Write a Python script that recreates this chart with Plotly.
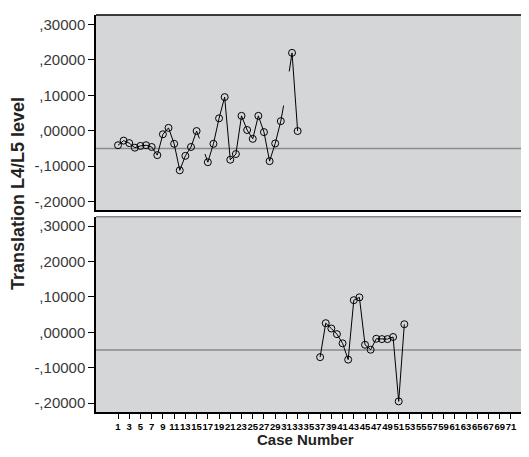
import plotly.graph_objects as go

# ---------------- data ----------------
top_cases = list(range(1, 34))
top_values = [-0.041, -0.028, -0.035, -0.048, -0.043, -0.041, -0.046, -0.069,
              -0.010, 0.008, -0.037, -0.112, -0.071, -0.046, -0.001, None,
              -0.089, -0.037, 0.035, 0.095, -0.082, -0.066, 0.042, 0.002,
              -0.023, 0.042, -0.004, -0.086, -0.036, 0.027, None, 0.220, -0.001]
# cases whose marker is hidden (only short line stubs toward them are drawn)
hidden_cases = [16, 31]
hidden_values = [-0.043, 0.115]

bottom_cases = list(range(37, 53))
bottom_values = [-0.070, 0.026, 0.011, -0.005, -0.031, -0.077, 0.091, 0.099,
                 -0.035, -0.049, -0.018, -0.019, -0.019, -0.013, -0.195, 0.023]

reference_value = -0.05

y_tickvals = [-0.2, -0.1, 0.0, 0.1, 0.2, 0.3]
y_ticktext = ["-,20000", "-,10000", ",00000", ",10000", ",20000", ",30000"]
x_tickvals = list(range(1, 72, 2))
x_ticktext = [str(v) for v in x_tickvals]

# ---------------- stubs toward hidden cases ----------------
lookup = dict(zip(top_cases, top_values))
stub_x, stub_y = [], []
frac = 0.5
for hc, hv in zip(hidden_cases, hidden_values):
    for nb in (hc - 1, hc + 1):
        v = lookup.get(nb)
        if v is None:
            continue
        stub_x += [nb, nb + frac * (hc - nb), None]
        stub_y += [v, v + frac * (hv - v), None]

# ---------------- figure ----------------
LINE = dict(color="black", width=1)
MARK = dict(symbol="circle-open", size=7, color="black", line=dict(width=1, color="black"))

fig = go.Figure()
fig.add_trace(go.Scatter(x=top_cases, y=top_values, mode="lines+markers",
                         line=LINE, marker=MARK, connectgaps=False,
                         xaxis="x", yaxis="y", showlegend=False))
fig.add_trace(go.Scatter(x=stub_x, y=stub_y, mode="lines", line=LINE,
                         xaxis="x", yaxis="y", showlegend=False))
fig.add_trace(go.Scatter(x=bottom_cases, y=bottom_values, mode="lines+markers",
                         line=LINE, marker=MARK,
                         xaxis="x2", yaxis="y2", showlegend=False))

xrange = [-2.92, 74.21]
yrange = [-0.225, 0.327]
tickfont = dict(family="Liberation Sans, Arial, sans-serif", size=15, color="#383838")

yax = dict(range=yrange, tickvals=y_tickvals, ticktext=y_ticktext,
           ticks="outside", ticklen=6, tickcolor="black", tickwidth=1,
           showgrid=False, zeroline=False, showline=True, linecolor="black",
           linewidth=1.5, tickfont=tickfont, fixedrange=True)

fig.update_layout(
    width=521, height=449,
    margin=dict(l=88, r=0, t=7, b=45),
    paper_bgcolor="white",
    plot_bgcolor="#d5d6d8",
    xaxis=dict(domain=[0, 1], range=xrange, anchor="y", showticklabels=False,
               ticks="", showgrid=False, zeroline=False, showline=True,
               linecolor="black", linewidth=1.5),
    yaxis=dict(domain=[0.508, 1], anchor="x", **yax),
    xaxis2=dict(domain=[0, 1], range=xrange, anchor="y2",
                tickvals=x_tickvals, ticktext=x_ticktext, tickangle=0,
                ticks="outside", ticklen=5, tickcolor="black", tickwidth=1,
                tickfont=dict(family="Liberation Sans, Arial, sans-serif", size=9.5,
                              color="black", weight="bold"),
                showgrid=False, zeroline=False, showline=True,
                linecolor="black", linewidth=1.5),
    yaxis2=dict(domain=[0, 0.492], anchor="x2", **yax),
    shapes=[
        dict(type="line", xref="x domain", yref="y", x0=0, x1=1,
             y0=reference_value, y1=reference_value,
             line=dict(color="#8a8a8a", width=1.5), layer="below"),
        dict(type="line", xref="x2 domain", yref="y2", x0=0, x1=1,
             y0=reference_value, y1=reference_value,
             line=dict(color="#8a8a8a", width=1.5), layer="below"),
        dict(type="line", xref="x domain", yref="y domain", x0=0, x1=1,
             y0=1, y1=1, line=dict(color="black", width=1.5)),
        dict(type="line", xref="x2 domain", yref="y2 domain", x0=0, x1=1,
             y0=1, y1=1, line=dict(color="#888888", width=1.5)),
    ],
    annotations=[
        dict(text="Translation L4/L5 level", xref="paper", yref="paper",
             x=-0.18, y=0.549, textangle=-90, showarrow=False,
             xanchor="center", yanchor="middle",
             font=dict(family="Liberation Sans, Arial, sans-serif", size=18,
                       color="#222222", weight="bold")),
        dict(text="Case Number", xref="paper", yref="paper",
             x=0.483, y=-0.0705, showarrow=False,
             xanchor="center", yanchor="middle",
             font=dict(family="Liberation Sans, Arial, sans-serif", size=15,
                       color="#222222", weight="bold")),
    ],
)

fig.write_html("out.html")
